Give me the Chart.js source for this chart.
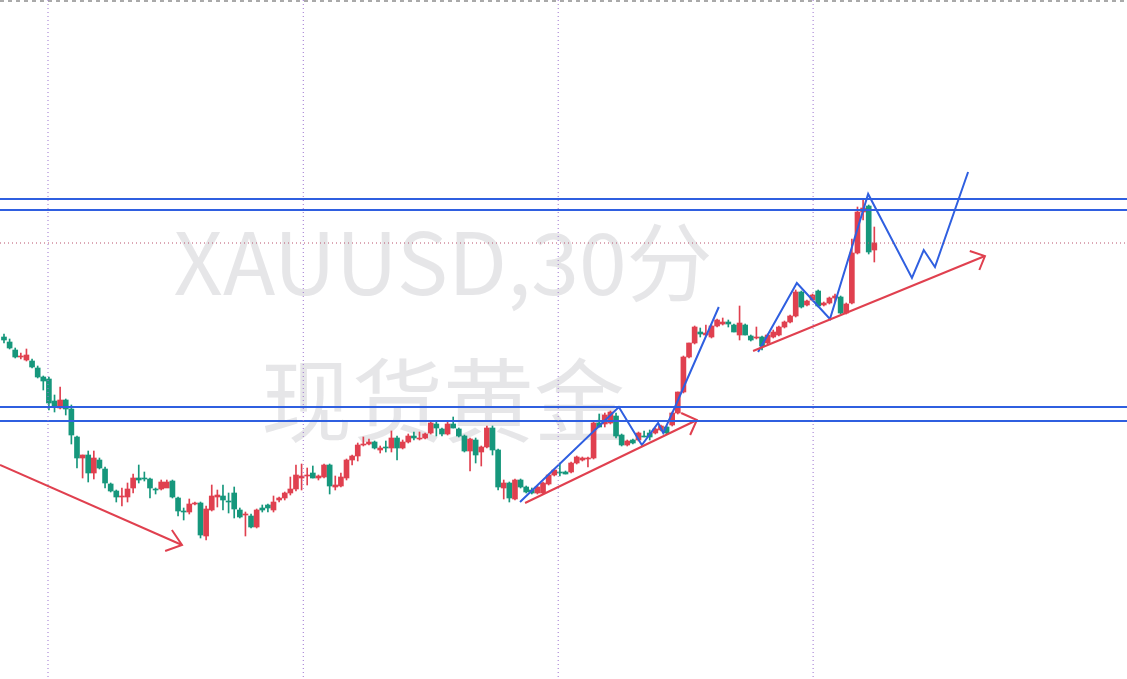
<!DOCTYPE html>
<html>
<head>
<meta charset="utf-8">
<script src="https://cdn.jsdelivr.net/npm/chart.js@4.4.0/dist/chart.umd.min.js"></script>
<style>
  html, body { margin: 0; padding: 0; background: #fff; }
  #wrap { width: 1127px; height: 679px; }
</style>
</head>
<body>
<div id="wrap"><canvas id="chart"></canvas></div>
<script>
// candles: [open, high, low, close] in chart level units (axis is reversed, smaller = higher)
const candles = [
  [337,334,343,340],[342,339,349,348],[350,348,358,357],[357,353,359,356],[360,349,361,355],
  [361,359,368,367],[368,366,378,377],[377,376,390,381],[379,377,410,403],[401,395,412,407],
  [408,387,409,400],[400,399,415,409],[409,405,444,435],[437,436,468,458],[458,455,478,455],
  [455,451,482,473],[473,451,479,458],[460,458,469,468],[469,467,488,483],[484,483,492,491],
  [491,490,502,497],[497,488,506,496],[497,483,502,489],[488,474,493,478],[478,465,483,480],
  [478,472,481,479],[479,478,498,488],[489,488,494,490],[489,480,490,482],[488,480,486,482],
  [481,480,498,497],[498,497,516,511],[511,508,520,512],[512,499,514,504],[504,502,505,503],
  [503,502,538,535],[536,506,540,509],[510,485,511,496],[497,490,507,495],[496,485,510,500],
  [501,493,513,502],[493,487,518,509],[510,508,518,517],[515,512,536,514],[516,514,528,527],
  [527,509,528,510],[508,505,512,510],[505,504,512,508],[510,496,512,502],[500,497,502,498],
  [498,492,500,493],[493,477,495,489],[489,465,491,475],[478,464,490,476],[476,468,485,475],
  [473,466,478,478],[478,475,480,476],[477,464,478,465],[465,464,494,486],[487,476,490,485],
  [486,473,487,477],[478,459,480,460],[460,455,465,456],[456,443,461,445],[445,437,446,444],
  [444,439,445,442],[442,441,449,448],[450,446,453,448],[447,441,452,448],[448,431,452,438],
  [438,436,460,448],[448,440,449,442],[442,434,443,436],[436,432,440,438],[439,432,440,438],
  [438,433,439,434],[433,422,434,423],[424,421,436,428],[429,428,436,434],[434,422,435,424],
  [424,417,428,428],[429,428,437,436],[436,435,452,451],[451,438,471,439],[440,438,463,455],
  [452,446,466,447],[447,426,448,428],[428,426,455,450],[450,449,490,487],[488,480,499,483],
  [483,482,502,498],[499,479,500,480],[480,479,488,487],[487,486,493,492],[490,488,494,493],
  [493,486,494,487],[493,482,494,483],[484,474,485,475],[475,469,476,470],[472,463,476,472],
  [472,471,474,474],[472,462,473,463],[463,456,464,457],[460,457,461,458],[459,457,467,458],
  [458,422,459,423],[423,414,427,427],[424,413,427,415],[423,411,424,412],[416,413,438,436],
  [435,434,446,445],[445,440,446,441],[440,439,444,443],[440,432,441,433],[436,431,437,436],
  [433,430,440,437],[433,428,434,429],[430,425,431,426],[427,426,434,433],[425,412,426,413],
  [413,392,414,392],[392,356,393,357],[357,343,358,343],[343,326,344,327],[332,328,337,334],
  [335,325,336,333],[337,325,338,326],[326,319,327,320],[324,318,325,322],[322,320,327,324],
  [325,324,332,332],[335,306,340,323],[325,324,335,335],[336,335,341,340],[338,327,339,337],
  [337,336,350,346],[343,334,344,335],[337,330,338,332],[335,326,336,327],[327,321,328,322],
  [322,315,323,316],[316,290,317,292],[292,291,308,307],[305,300,306,301],[300,294,301,295],
  [291,290,307,306],[305,302,306,303],[303,297,304,298],[298,294,302,296],[297,296,314,313],
  [313,303,314,304],[303,239,304,253],[253,207,254,212],[212,199,220,208],[206,205,254,252],
  [250,227,262,243]
];

// support / resistance levels
const blueLevels = [199, 210, 407, 421];
const dottedLevel = 243;
const topLevel = 1;
const sessionBreaks = [7.84, 53.3, 98.7, 144.1];

// hand-drawn trend annotations, [bar, level]
const redArrow1 = [[-0.71, 465], [31.7, 545]];
const redHead1 = [[29.9, 530], [31.7, 545], [28.7, 551]];
const redArrow2 = [[92.8, 503], [123.4, 420]];
const redHead2 = [[120.6, 413], [123.4, 420], [122.2, 435]];
const redArrow3 = [[133.4, 351], [174.7, 256]];
const redHead3 = [[172.0, 251], [174.7, 256], [173.7, 270]];
const blueWave1 = [[91.9, 502], [109.5, 407], [113.6, 445], [116.5, 423], [117.4, 433], [119.5, 407], [127.3, 307]];
const blueWave2 = [[134.3, 352], [141.2, 283], [147.1, 319], [153.9, 194], [161.7, 278], [163.8, 250], [165.8, 267], [171.7, 172]];

const UP = '#e0404f', DOWN = '#16977c';
const X_MIN = -0.71, X_MAX = 200;

const pts = arr => arr.map(p => ({ x: p[0], y: p[1] }));
const lineDs = (data, color, width, dash) => ({
    type: 'line', data: data, borderColor: color, borderWidth: width, borderDash: dash || [],
    pointRadius: 0, fill: false, tension: 0, order: 0
});

const colors = candles.map(c => c[3] < c[0] ? UP : DOWN);
const datasets = [];
datasets.push({ type: 'bar', data: candles.map((c, i) => ({ x: i, y: [c[1], c[2]] })),
    backgroundColor: colors, barThickness: 1, grouped: false, order: 2 });
datasets.push({ type: 'bar', data: candles.map((c, i) => ({ x: i, y: [c[0], c[3] === c[0] ? c[0] + 1 : c[3]] })),
    backgroundColor: colors, barThickness: 5, grouped: false, order: 1 });

sessionBreaks.forEach(b => datasets.push(lineDs([{ x: b, y: 0 }, { x: b, y: 679 }], '#9b72d0', 1, [1, 3])));
datasets.push(lineDs([{ x: X_MIN, y: dottedLevel }, { x: X_MAX, y: dottedLevel }], '#b8506a', 1, [1, 3]));
datasets.push(lineDs([{ x: X_MIN, y: topLevel }, { x: X_MAX, y: topLevel }], '#555', 1, [4, 4]));
blueLevels.forEach(l => datasets.push(lineDs([{ x: X_MIN, y: l }, { x: X_MAX, y: l }], '#2f5fe0', 2)));
[redArrow1, redHead1, redArrow2, redHead2, redArrow3, redHead3].forEach(a => datasets.push(lineDs(pts(a), '#e0404f', 2)));
[blueWave1, blueWave2].forEach(a => datasets.push(lineDs(pts(a), '#2f5fe0', 2)));

const watermark = {
    id: 'watermark',
    beforeDatasetsDraw(chart) {
        const ctx = chart.ctx;
        ctx.save();
        ctx.fillStyle = 'rgba(200,200,204,0.45)';
        ctx.textAlign = 'center';
        ctx.textBaseline = 'middle';
        ctx.font = '86px "Noto Sans CJK SC", "Noto Sans", sans-serif';
        ctx.fillText('XAUUSD,30分', 443, 262);
        ctx.font = '91px "Noto Sans CJK SC", "Noto Sans", sans-serif';
        ctx.fillText('现货黄金', 443, 400);
        ctx.restore();
    }
};

new Chart(document.getElementById('chart'), {
    data: { datasets: datasets },
    options: {
        responsive: true, maintainAspectRatio: false, animation: false,
        layout: { padding: 0 },
        plugins: { legend: { display: false }, tooltip: { enabled: false } },
        scales: {
            x: { type: 'linear', min: X_MIN, max: X_MAX, display: false, offset: false },
            y: { type: 'linear', min: 0, max: 679, reverse: true, display: false }
        }
    },
    plugins: [watermark]
});
</script>
</body>
</html>
